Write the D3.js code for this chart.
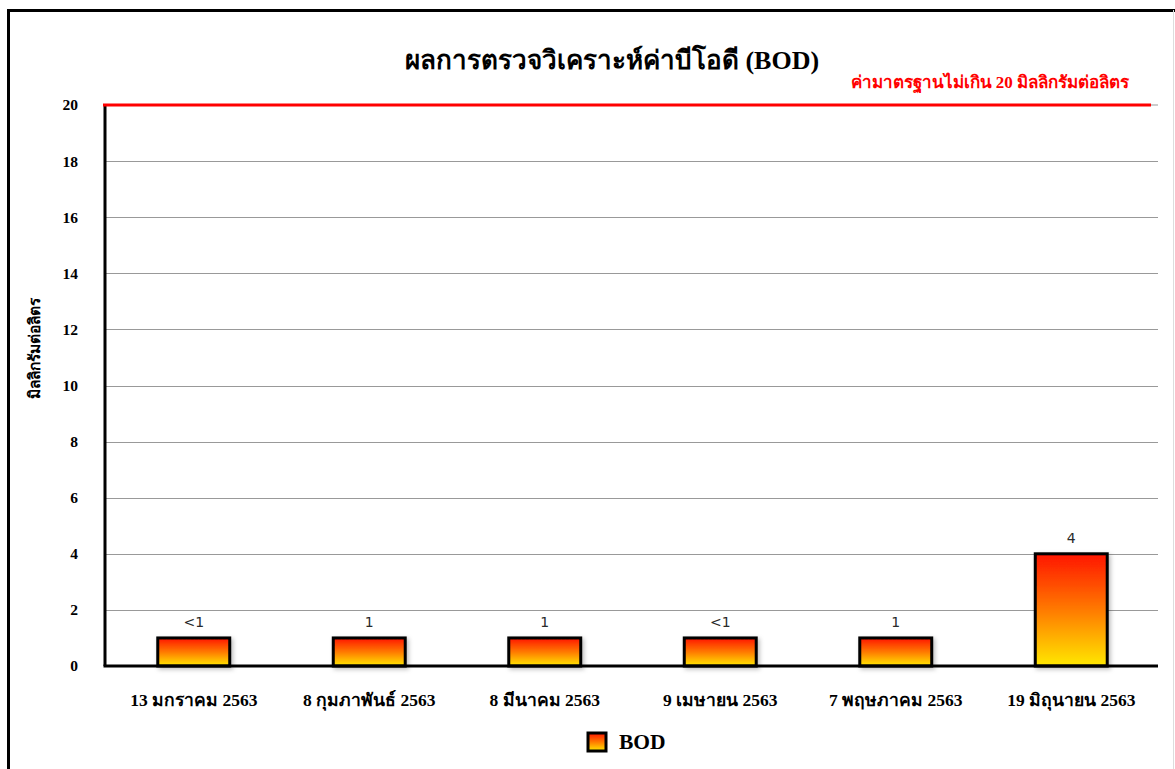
<!DOCTYPE html>
<html><head><meta charset="utf-8">
<script src="https://cdn.jsdelivr.net/npm/d3@7"></script>
<style>
body{margin:0;background:#fff;}
svg{display:block;}
</style></head>
<body>
<svg id="chart" width="1175" height="769"></svg>
<script>
const categories = ["13 มกราคม 2563","8 กุมภาพันธ์ 2563","8 มีนาคม 2563","9 เมษายน 2563","7 พฤษภาคม 2563","19 มิถุนายน 2563"];
const bodValues = [1,1,1,1,1,4];
const valueLabels = ["<1","1","1","<1","1","4"];
const yTicks = [0,2,4,6,8,10,12,14,16,18,20];
const standardValue = 20;
const titleText = "ผลการตรวจวิเคราะห์ค่าบีโอดี (BOD)";
const standardText = "ค่ามาตรฐานไม่เกิน 20 มิลลิกรัมต่อลิตร";
const yTitle = "มิลลิกรัมต่อลิตร";
const seriesName = "BOD";

(function(){
const svg = d3.select("#chart");
const serif = "'Liberation Serif','Times New Roman',serif";

const defs = svg.append("defs");
const grad = defs.append("linearGradient").attr("id","barGrad").attr("x1",0).attr("y1",0).attr("x2",0).attr("y2",1);
grad.append("stop").attr("offset","0%").attr("stop-color","#ff1500");
grad.append("stop").attr("offset","50%").attr("stop-color","#ff7a00");
grad.append("stop").attr("offset","100%").attr("stop-color","#ffe800");
const f = defs.append("filter").attr("id","shadow").attr("x","-20%").attr("y","-20%").attr("width","150%").attr("height","150%");
f.append("feDropShadow").attr("dx",2).attr("dy",2).attr("stdDeviation",2).attr("flood-color","#000").attr("flood-opacity",0.25);

// outer border
svg.append("path").attr("d","M8.5,769 L8.5,10.5 L1175,10.5").attr("fill","none").attr("stroke","#000").attr("stroke-width",3);
svg.append("line").attr("x1",1173.5).attr("x2",1173.5).attr("y1",10).attr("y2",769).attr("stroke","#ddd").attr("stroke-width",1);

const pL = 105, pR = 1158, pT = 105, pB = 666;
const x = d3.scaleBand().domain(categories).range([pL+1,pR+1]).paddingInner(0.59).paddingOuter(0.295);
const y = d3.scaleLinear().domain([0,20]).range([pB,pT]);

// gridlines
svg.append("g").selectAll("line").data(yTicks.filter(d=>d>0 && d<20)).join("line")
  .attr("x1",pL).attr("x2",pR).attr("y1",d=>Math.round(y(d))+0.5).attr("y2",d=>Math.round(y(d))+0.5)
  .attr("stroke","#999").attr("stroke-width",1);
svg.append("line").attr("x1",pL).attr("x2",pR).attr("y1",y(standardValue)).attr("y2",y(standardValue))
  .attr("stroke","#999").attr("stroke-width",1);

// y axis
const yAxis = svg.append("g").attr("transform",`translate(${pL},0)`)
  .call(d3.axisLeft(y).tickValues(yTicks).tickSize(0).tickPadding(27));
yAxis.select(".domain").remove();
yAxis.selectAll("text").attr("font-family",serif).attr("font-weight","bold").attr("font-size",15.5).attr("fill","#000");
svg.append("line").attr("x1",pL).attr("x2",pL).attr("y1",pT).attr("y2",pB).attr("stroke","#000").attr("stroke-width",3);

// bars
svg.append("g").selectAll("rect").data(bodValues).join("rect")
  .attr("x",(d,i)=>x(categories[i])).attr("width",x.bandwidth())
  .attr("y",d=>y(d)).attr("height",d=>pB-y(d))
  .attr("fill","url(#barGrad)").attr("stroke","#000").attr("stroke-width",3)
  .attr("filter","url(#shadow)");

// value labels
svg.append("g").selectAll("text").data(bodValues).join("text")
  .attr("x",(d,i)=>x(categories[i])+x.bandwidth()/2).attr("y",d=>y(d)-11)
  .attr("text-anchor","middle").attr("font-family","'DejaVu Sans',sans-serif").attr("font-size",14).attr("fill","#2a2a2a")
  .text((d,i)=>valueLabels[i]);

// x axis
const xAxis = svg.append("g").attr("transform",`translate(0,${pB})`)
  .call(d3.axisBottom(x).tickSize(0).tickPadding(28));
xAxis.select(".domain").remove();
xAxis.selectAll("text").attr("font-family",serif).attr("font-weight","bold").attr("font-size",17.5).attr("fill","#000");
svg.append("line").attr("x1",pL-1.5).attr("x2",pR).attr("y1",pB).attr("y2",pB).attr("stroke","#000").attr("stroke-width",3);

// standard line
svg.append("line").attr("x1",pL-2).attr("x2",1151).attr("y1",y(standardValue)).attr("y2",y(standardValue))
  .attr("stroke","#ff0000").attr("stroke-width",3);
svg.append("text").attr("x",1129).attr("y",88).attr("text-anchor","end")
  .attr("font-family",serif).attr("font-weight","bold").attr("font-size",17).attr("fill","#ff0000").text(standardText);

// title
svg.append("text").attr("x",612).attr("y",69).attr("text-anchor","middle")
  .attr("font-family",serif).attr("font-weight","bold").attr("font-size",26).attr("fill","#000").text(titleText);

// y title
svg.append("text").attr("transform","translate(40,348) rotate(-90)").attr("text-anchor","middle")
  .attr("font-family",serif).attr("font-weight","bold").attr("font-size",15.5).attr("fill","#000").text(yTitle);

// legend
const lg = svg.append("g");
lg.append("rect").attr("x",588).attr("y",733).attr("width",18).attr("height",18)
  .attr("fill","url(#barGrad)").attr("stroke","#000").attr("stroke-width",3);
lg.append("text").attr("x",619).attr("y",749).attr("font-family",serif).attr("font-weight","bold").attr("font-size",21.5).attr("fill","#000").text(seriesName);
})();
</script>
</body></html>
